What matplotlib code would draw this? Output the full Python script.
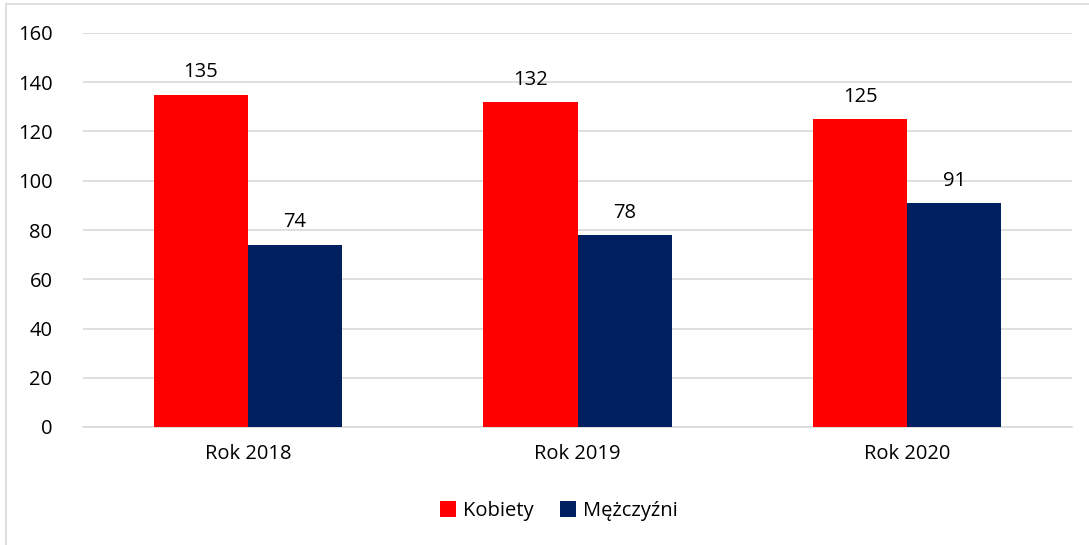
import matplotlib.pyplot as plt
import numpy as np
from matplotlib.lines import Line2D

categories = ['Rok 2018', 'Rok 2019', 'Rok 2020']
kobiety = [135, 132, 125]
mezczyzni = [74, 78, 91]
series_names = ['Kobiety', 'Mężczyźni']
colors = ['#ff0000', '#002060']

plt.rcParams['font.family'] = ['Open Sans', 'DejaVu Sans']
fs = 14.5

fig = plt.figure(figsize=(10.89, 5.45), dpi=100)
W, H = 1089, 545
ax = fig.add_axes([83 / W, 1 - 427 / H, (1072 - 83) / W, (427 - 33) / H])

x = np.arange(len(categories))
bw = 0.286
b1 = ax.bar(x - bw / 2, kobiety, bw, color=colors[0], label=series_names[0], zorder=3)
b2 = ax.bar(x + bw / 2, mezczyzni, bw, color=colors[1], label=series_names[1], zorder=3)

for bars in (b1, b2):
    for r in bars:
        ax.text(r.get_x() + r.get_width() / 2, r.get_height() + 5, str(int(r.get_height())),
                ha='center', va='bottom', fontsize=fs, color='#000000')

ax.set_xlim(-0.5, len(categories) - 0.5)
ax.set_ylim(0, 160)
ax.set_yticks(range(0, 161, 20))
ax.yaxis.grid(True, color='#d9d9d9', linewidth=1.2, zorder=0)
ax.set_axisbelow(True)
for s in ['top', 'right', 'left']:
    ax.spines[s].set_visible(False)
ax.spines['bottom'].set_color('#d9d9d9')
ax.spines['bottom'].set_linewidth(1.2)
ax.tick_params(axis='both', length=0, labelsize=fs, colors='#000000')
ax.tick_params(axis='y', pad=22)
ax.tick_params(axis='x', pad=12)
ax.set_xticks(x)
ax.set_xticklabels(categories)

fig.legend(handles=[b1, b2], loc='center', bbox_to_anchor=(559 / W, 1 - 511 / H), ncol=2,
           frameon=False, fontsize=fs, handlelength=0.8, handleheight=0.8,
           handletextpad=0.35, columnspacing=1.3)

# outer chart frame (partly cut off)
fig.add_artist(Line2D([6 / W, 6 / W], [0, 1 - 4 / H], color='#d9d9d9', linewidth=1.2))
fig.add_artist(Line2D([6 / W, 1], [1 - 4 / H, 1 - 4 / H], color='#d9d9d9', linewidth=1.2))

fig.savefig('out.png', dpi=100)
